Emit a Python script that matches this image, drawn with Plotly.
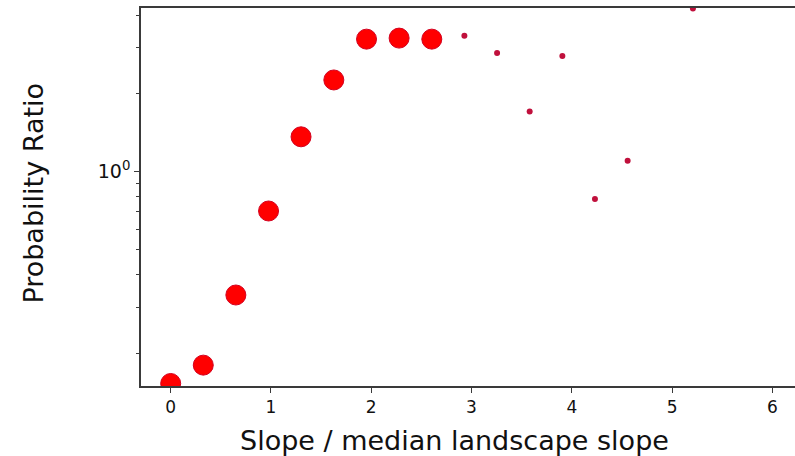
import plotly.graph_objects as go

# Bin centres (slope relative to the median landscape slope)
slope_large = [0.0, 0.325, 0.65, 0.976, 1.30, 1.627, 1.953, 2.278, 2.604]
ratio_large = [0.153, 0.180, 0.335, 0.705, 1.36, 2.25, 3.23, 3.26, 3.23]

slope_small = [2.929, 3.255, 3.58, 3.906, 4.231, 4.557, 5.208]
ratio_small = [3.33, 2.86, 1.70, 2.78, 0.784, 1.10, 4.24]

y_major_vals = [1]
y_major_text = ["10<sup>0</sup>"]
y_minor_vals = [0.2, 0.3, 0.4, 0.5, 0.6, 0.7, 0.8, 0.9, 2, 3, 4]
x_tick_vals = [0, 1, 2, 3, 4, 5, 6]

FONT = "DejaVu Sans"

fig = go.Figure()
fig.add_trace(go.Scatter(
    x=slope_large, y=ratio_large, mode="markers",
    marker=dict(size=20, color="#ff0000", line=dict(width=1, color="#d4001e")),
    showlegend=False, hoverinfo="skip",
))
fig.add_trace(go.Scatter(
    x=slope_small, y=ratio_small, mode="markers",
    marker=dict(size=6, color="#c0103c", line=dict(width=0)),
    showlegend=False, hoverinfo="skip",
))

axis_line = dict(showline=True, linecolor="#3a3a3a", linewidth=1.5,
                 showgrid=False, zeroline=False, ticks="outside",
                 tickcolor="#3a3a3a", tickwidth=1.2, ticklen=5)

fig.update_xaxes(range=[-0.296, 6.226], tickmode="array", tickvals=x_tick_vals,
                 mirror=True, tickfont=dict(family=FONT, size=17, color="#111"),
                 **axis_line)
fig.update_yaxes(type="log", range=[-0.825, 0.629], tickmode="array",
                 tickvals=y_major_vals, ticktext=y_major_text,
                 tickfont=dict(family=FONT, size=19, color="#111"),
                 minor=dict(tickmode="array", tickvals=y_minor_vals,
                            ticks="outside", ticklen=3, tickcolor="#3a3a3a",
                            tickwidth=1, showgrid=False),
                 mirror=False, **axis_line)

fig.add_annotation(text="Slope / median landscape slope", xref="paper", yref="paper",
                   x=0.480, y=0, yshift=-54, xanchor="center", yanchor="middle",
                   showarrow=False, font=dict(family=FONT, size=27, color="#111"))
fig.add_annotation(text="Probability Ratio", xref="paper", yref="paper",
                   x=0, y=0.509, xshift=-107, xanchor="center", yanchor="middle",
                   textangle=-90, showarrow=False,
                   font=dict(family=FONT, size=27, color="#111"))

fig.update_layout(width=795, height=456, margin=dict(l=141, r=0, t=8, b=70),
                  paper_bgcolor="white", plot_bgcolor="white")

fig.write_html("out.html")
